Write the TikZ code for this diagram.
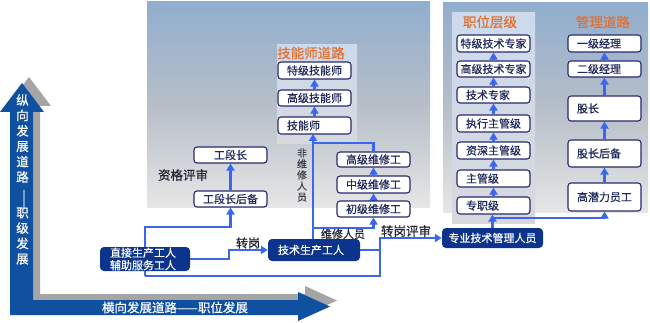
\documentclass[tikz,border=0pt]{standalone}
\usepackage{fontspec}
\setmainfont{Noto Sans CJK SC}[FakeBold=0.6]
\usetikzlibrary{arrows.meta,calc}
\definecolor{bigblue}{RGB}{16,80,160}
\definecolor{shadowgray}{RGB}{165,165,165}
\definecolor{darkbox}{RGB}{12,52,140}
\definecolor{connblue}{RGB}{58,102,240}
\definecolor{boxline}{RGB}{40,40,110}
\definecolor{boxtext}{RGB}{30,40,90}
\definecolor{orangetitle}{RGB}{228,112,50}
\definecolor{labeltext}{RGB}{35,35,50}
\definecolor{paneltop}{RGB}{145,174,206}
\definecolor{panelmid}{RGB}{182,190,200}
\definecolor{panelbot}{RGB}{230,230,230}
\pgfdeclarelayer{bg}
\pgfdeclarelayer{lines}
\pgfsetlayers{bg,lines,main}
\begin{document}
\begin{tikzpicture}[x=1pt,y=-1pt,
  wbox/.style={draw=boxline, line width=1.1pt, fill=white, rounded corners=3pt,
    inner ysep=0pt, font=\fontsize{11}{13}\selectfont, text=boxtext},
  lbox/.style={wbox, inner xsep=9pt, text width=55pt, align=left},
  cbox/.style={wbox, inner xsep=0pt, minimum width=73pt, align=center},
  dbox/.style={fill=darkbox, rounded corners=4pt, text=white, inner ysep=0pt,
    font=\fontsize{11}{12.5}\selectfont},
  conn/.style={draw=connblue, line width=2.4pt, -{Triangle[width=8pt,length=7pt]}},
  plain/.style={draw=connblue, line width=2.4pt},
  paneltitle/.style={text=orangetitle, font=\fontsize{13.5}{15}\selectfont, inner sep=0pt},
  lbl/.style={text=labeltext, font=\fontsize{12.5}{14}\selectfont, inner sep=0pt},
  hl/.style={top color={rgb,255:red,204;green,218;blue,236}, bottom color={rgb,255:red,214;green,216;blue,220}},
]
\useasboundingbox (0,0) rectangle (650,323);
\begin{pgfonlayer}{bg}
  \fill[white] (0,0) rectangle (650,323);
  % panels
  \shade[top color=paneltop, bottom color=panelbot, middle color=panelmid] (147,2) rectangle (430,207);
  \shade[top color=paneltop, bottom color=panelbot, middle color=panelmid] (443,3) rectangle (648,212);
  \shade[hl] (277,45) rectangle (357,144);
  \shade[hl] (452,13) rectangle (535,223);
  % big L arrow: shadow then body
  \fill[shadowgray, shift={(7,-6)}] (10,315) -- (10,112) -- (0,112) -- (22,83) -- (44,112) -- (33,112)
     -- (33,300) -- (298,300) -- (298,292) -- (330,306.5) -- (298,321) -- (298,315) -- cycle;
  \fill[bigblue] (10,315) -- (10,112) -- (0,112) -- (22,83) -- (44,112) -- (33,112)
     -- (33,300) -- (298,300) -- (298,292) -- (330,306.5) -- (298,321) -- (298,315) -- cycle;
\end{pgfonlayer}

% arrow texts
\node[text=white, font=\fontsize{12.5}{15.4}\selectfont, align=center, inner sep=0pt] (vt1) at (22.5,138.5) {纵\\向\\发\\展\\道\\路};
\node[text=white, font=\fontsize{12}{12}\selectfont, inner sep=0pt, rotate=-90] (vdash) at (22.5,199.5) {——};
\node[text=white, font=\fontsize{12.5}{15.4}\selectfont, align=center, inner sep=0pt] (vt2) at (22.5,236) {职\\级\\发\\展};
\node[text=white, font=\fontsize{12.5}{14}\selectfont, inner sep=0pt] (ht) at (175,307.5) {横向发展道路——职位发展};

% titles
\node[paneltitle, anchor=west] (t1) at (277,53) {技能师道路};
\node[paneltitle] (t2) at (490,22) {职位层级};
\node[paneltitle] (t3) at (603,22) {管理道路};

% skill path
\node[lbox, minimum height=17pt] (tj) at (314.5,70.5) {特级技能师};
\node[lbox, minimum height=16pt] (gj) at (314.5,98) {高级技能师};
\node[lbox, minimum height=17pt] (jns) at (314.5,125.5) {技能师};

% repair
\node[cbox, minimum height=15pt] (gw) at (373.5,159.5) {高级维修工};
\node[cbox, minimum height=17pt] (zw) at (373.5,184.5) {中级维修工};
\node[cbox, minimum height=16pt] (cw) at (373.5,209) {初级维修工};

% section leader
\node[cbox, minimum height=16pt] (gdz) at (230.5,155) {工段长};
\node[cbox, minimum height=16pt] (gdh) at (230.5,199) {工段长后备};

% position levels
\node[cbox, minimum height=17pt] (p1) at (493.5,43.5) {特级技术专家};
\node[cbox, minimum height=16pt] (p2) at (493.5,69) {高级技术专家};
\node[lbox, minimum height=16pt] (p3) at (493.5,95) {技术专家};
\node[lbox, minimum height=17pt] (p4) at (493.5,123.5) {执行主管级};
\node[lbox, minimum height=17pt] (p5) at (493.5,150.5) {资深主管级};
\node[lbox, minimum height=17pt] (p6) at (493.5,178.5) {主管级};
\node[lbox, minimum height=17pt] (p7) at (493.5,205.5) {专职级};

% management
\node[lbox, minimum height=17pt] (m1) at (604.5,43.5) {一级经理};
\node[lbox, minimum height=16pt] (m2) at (604.5,69) {二级经理};
\node[lbox, minimum height=25pt] (m3) at (604.5,108.5) {股长};
\node[lbox, minimum height=27pt] (m4) at (604.5,153.5) {股长后备};
\node[lbox, minimum height=28pt] (m5) at (604.5,197) {高潜力员工};

% dark boxes
\node[dbox, inner xsep=10pt, text width=70pt, align=left, minimum height=24pt] (zj) at (145,259) {直接生产工人\\辅助服务工人};
\node[dbox, inner xsep=10pt, text width=72pt, align=left, minimum height=22pt] (js) at (314,250) {技术生产工人};
\node[dbox, inner xsep=0pt, minimum width=101pt, align=center, minimum height=20pt] (zy) at (492.5,238) {专业技术管理人员};

% labels
\node[lbl] (l1) at (183,175) {资格评审};
\node[lbl, font=\fontsize{12}{14}\selectfont] (l2) at (248,243) {转岗};
\node[lbl] (l3) at (406,231) {转岗评审};
\node[lbl, font=\fontsize{11}{13}\selectfont] (l4) at (343,234) {维修人员};
\node[lbl, font=\fontsize{10}{11}\selectfont, align=center, text={rgb,255:red,60;green,60;blue,75}] (l5) at (302,175) {非\\维\\修\\人\\员};

\begin{pgfonlayer}{lines}
  \coordinate (bl) at (145,276);
  \draw[conn] (zj.east) -- ++(39,0) |- (js.west);
  \draw[conn] (bl) -- (145,227) -| (gdh.south);
  \draw[conn] (bl) -- (380,276) |- (zy.west);
  \draw[plain] (js.east) -- (380,250);
  \draw[conn] (313,239) -- (313,134);
  \draw[plain] (gw.north) |- (313,143);
  \draw[conn] (313,228) -| (cw.south);
  \draw[conn] (zy.north) -- (zy.north |- p7.south);
  \draw[conn] (zy.north |- 0,218) -| (m5.south);
  % chains
  \draw[conn] (gj.north) -- (tj.south);
  \draw[conn] (jns.north) -- (gj.south);
  \draw[conn] (cw.north) -- (zw.south);
  \draw[conn] (zw.north) -- (gw.south);
  \draw[conn] (gdh.north) -- (gdz.south);
  \draw[conn] (p7.north) -- (p6.south);
  \draw[conn] (p6.north) -- (p5.south);
  \draw[conn] (p5.north) -- (p4.south);
  \draw[conn] (p4.north) -- (p3.south);
  \draw[conn] (p3.north) -- (p2.south);
  \draw[conn] (p2.north) -- (p1.south);
  \draw[conn] (m5.north) -- (m4.south);
  \draw[conn] (m4.north) -- (m3.south);
  \draw[conn] (m3.north) -- (m2.south);
  \draw[conn] (m2.north) -- (m1.south);
\end{pgfonlayer}
\end{tikzpicture}
\end{document}
